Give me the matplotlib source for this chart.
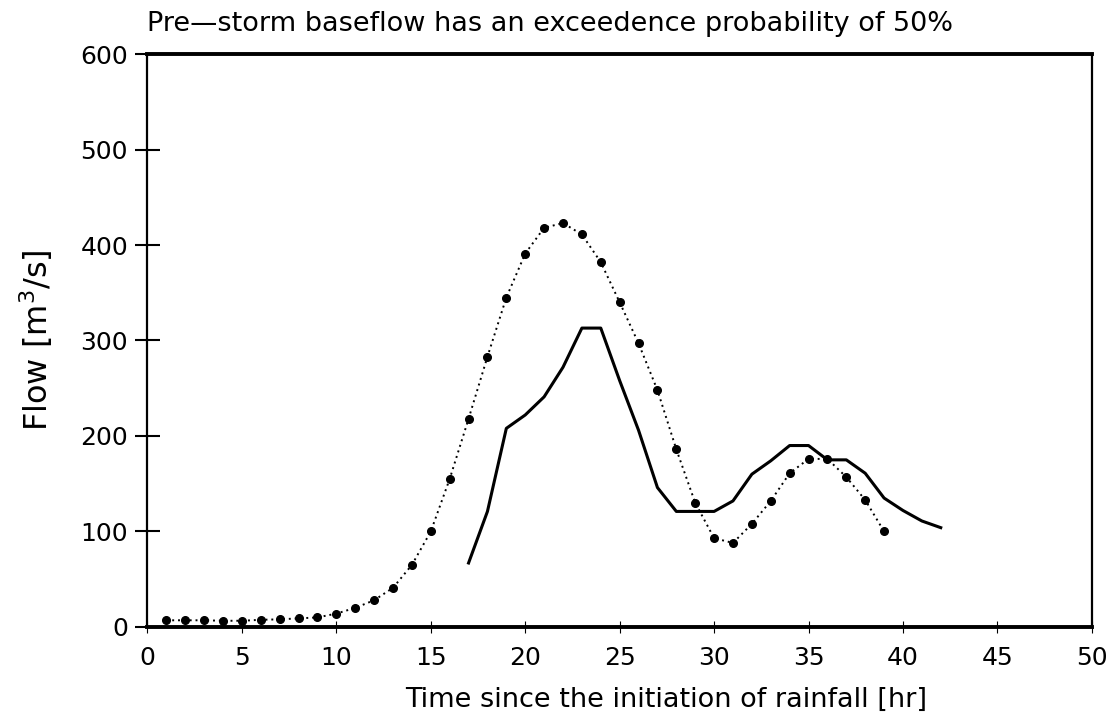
import matplotlib
matplotlib.use("Agg")
import matplotlib.pyplot as plt

# Simulated (dotted, with markers) hourly flow
sim_hours = list(range(1, 40))
sim_flow = [7, 7, 7, 6.5, 6.5, 7.5, 8, 9, 10, 14, 20, 28, 41, 65, 100,
            155, 218, 283, 345, 391, 418, 423, 411, 382, 340, 297, 248,
            186, 130, 93, 88, 108, 132, 161, 176, 176, 157, 133, 100]

# Observed (solid) hourly flow
obs_hours = list(range(17, 43))
obs_flow = [67, 121, 208, 222, 241, 272, 313, 313, 258, 206, 146, 121,
            121, 121, 132, 160, 174, 190, 190, 175, 175, 161, 135, 122,
            111, 104]

x_ticks = [0, 5, 10, 15, 20, 25, 30, 35, 40, 45, 50]
y_ticks = [0, 100, 200, 300, 400, 500, 600]

title = "Pre\u2014storm baseflow has an exceedence probability of 50%"
xlabel = "Time since the initiation of rainfall [hr]"
ylabel = "Flow [m$^3$/s]"

plt.rcParams['font.family'] = ['DejaVu Sans']

fig = plt.figure(figsize=(11.13, 7.26), dpi=100)
ax = fig.add_axes([0.1325, 0.1364, 0.8485, 0.7892])

ax.plot(sim_hours, sim_flow, color='black', linestyle=(0, (1, 2)),
        linewidth=1.4, marker='o', markersize=5.5, markerfacecolor='black',
        markeredgecolor='black')
ax.plot(obs_hours, obs_flow, color='black', linestyle='-', linewidth=2.2)

ax.set_xlim(0, 50)
ax.set_ylim(0, 600)
ax.set_xticks(x_ticks)
ax.set_yticks(y_ticks)

ax.tick_params(axis='y', direction='inout', length=18, width=1.5,
               labelsize=18, pad=5)
ax.tick_params(axis='x', direction='inout', length=8, width=0.8,
               labelsize=18, pad=10)

for side, lw in [('top', 2.8), ('bottom', 2.8), ('left', 1.6), ('right', 1.6)]:
    ax.spines[side].set_linewidth(lw)
    ax.spines[side].set_color('black')

ax.set_xlabel(xlabel, fontsize=19.5)
ax.xaxis.set_label_coords(0.549, -0.105)
ax.set_ylabel(ylabel, fontsize=23)
ax.yaxis.set_label_coords(-0.098, 0.5)
ax.text(0.0, 1.03, title, transform=ax.transAxes, ha='left', va='bottom',
        fontsize=19.5)

fig.savefig("out.png", dpi=100, facecolor='white')
